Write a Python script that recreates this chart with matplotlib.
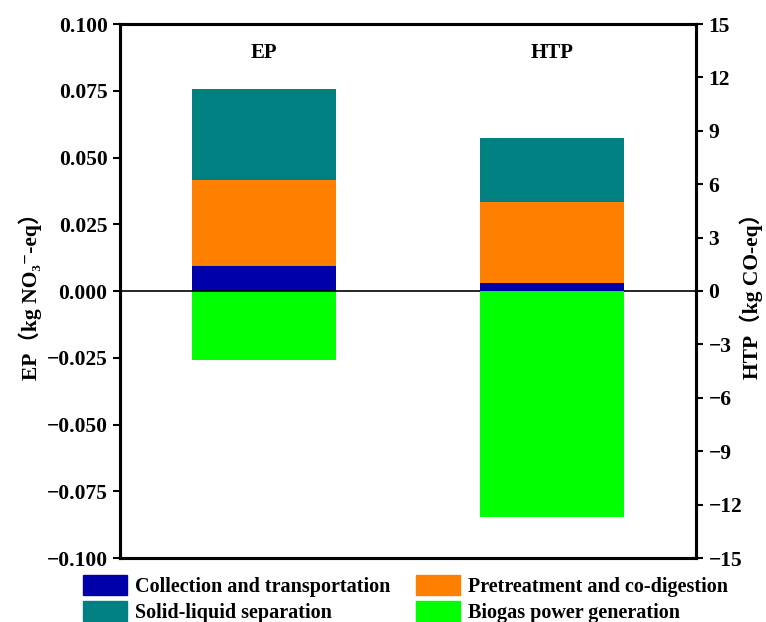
import numpy as np
import matplotlib.pyplot as plt
from matplotlib.patches import Patch

plt.rcParams['font.family'] = ['Liberation Serif', 'DejaVu Serif', 'Noto Sans CJK SC']
plt.rcParams['font.weight'] = 'bold'
plt.rcParams['axes.unicode_minus'] = True

# stage contributions for each impact category
stages = ['Collection and transportation', 'Pretreatment and co-digestion',
          'Solid-liquid separation', 'Biogas power generation']
colors = ['#0000aa', '#ff8000', '#008080', '#00ff00']
ep = [0.0092, 0.0322, 0.0341, -0.0257]
htp = [0.43, 4.56, 3.61, -12.70]

ep_ticks = np.arange(-0.1, 0.101, 0.025)
htp_ticks = np.arange(-15, 16, 3)

fig = plt.figure(figsize=(7.66, 6.22), dpi=100)
ax = fig.add_axes([120/766, 64/622, 576/766, 534/622])
ax2 = ax.twinx()

def stack(axis, x, vals):
    bottom = 0
    for v, c in zip(vals[:3], colors[:3]):
        axis.bar(x, v, bottom=bottom, width=1, color=c)
        bottom += v
    axis.bar(x, vals[3], width=1, color=colors[3])

stack(ax, 1, ep)
stack(ax2, 3, htp)

ax.set_xlim(0, 4)
ax.set_ylim(-0.1, 0.1)
ax2.set_ylim(-15, 15)
ax.set_yticks(ep_ticks)
ax.set_yticklabels([('%.3f' % t).replace('-', '\u2212') if abs(t) > 1e-9 else '0.000'
                    for t in ep_ticks])
ax2.set_yticks(htp_ticks)
ax2.set_yticklabels([str(t).replace('-', '\u2212') for t in htp_ticks])
ax.set_xticks([])
ax.axhline(0, color='black', lw=1.2)

for a in (ax, ax2):
    a.tick_params(axis='y', labelsize=15.5, width=1.5, length=5, direction='out', pad=4)
    for s in a.spines.values():
        s.set_linewidth(2.2)

ax.set_ylabel('EP（kg NO\u2083\u207b-eq）', fontsize=15.5, fontweight='bold', labelpad=3)
ax2.set_ylabel('HTP（kg CO-eq）', fontsize=15.5, fontweight='bold', labelpad=-2)

ax.text(1, 0.089, 'EP', ha='center', va='center', fontsize=15, fontweight='bold')
ax.text(3, 0.089, 'HTP', ha='center', va='center', fontsize=15, fontweight='bold')

handles = [Patch(color=c) for c in colors]
order = [0, 2, 1, 3]
fig.legend([handles[i] for i in order], [stages[i] for i in order],
           loc='lower left', bbox_to_anchor=(65/766, -19/622), ncol=2, frameon=False,
           prop={'size': 14.5, 'weight': 'bold'}, handlelength=2.2, handleheight=1.15,
           columnspacing=1.25, labelspacing=0.2, handletextpad=0.4)

plt.savefig('out.png', dpi=100)
